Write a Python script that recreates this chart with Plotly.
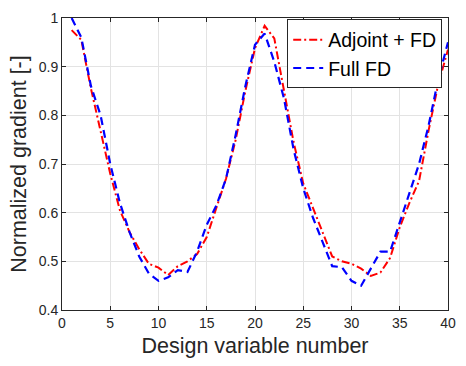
import plotly.graph_objects as go

design_var = list(range(1, 41))
adjoint_fd = [0.975, 0.955, 0.855, 0.77, 0.68, 0.605, 0.56, 0.525, 0.495, 0.487,
              0.472, 0.49, 0.50, 0.515, 0.55, 0.61, 0.67, 0.75, 0.85, 0.938,
              0.984, 0.958, 0.855, 0.745, 0.66, 0.61, 0.56, 0.51, 0.50, 0.495,
              0.485, 0.47, 0.477, 0.507, 0.57, 0.62, 0.665, 0.77, 0.865, 0.935]
full_fd = [1.0, 0.96, 0.86, 0.80, 0.70, 0.62, 0.56, 0.51, 0.475, 0.46,
           0.467, 0.482, 0.478, 0.52, 0.575, 0.615, 0.67, 0.76, 0.86, 0.945,
           0.968, 0.91, 0.835, 0.73, 0.65, 0.59, 0.54, 0.49, 0.488, 0.46,
           0.45, 0.485, 0.52, 0.52, 0.58, 0.64, 0.70, 0.78, 0.875, 0.95]
x_ticks = [0, 5, 10, 15, 20, 25, 30, 35, 40]
y_ticks = [0.4, 0.5, 0.6, 0.7, 0.8, 0.9, 1.0]
y_tick_text = ["0.4", "0.5", "0.6", "0.7", "0.8", "0.9", "1"]

FONT = "Liberation Sans, Arial, sans-serif"
TXT = "#262626"

fig = go.Figure()
fig.add_trace(go.Scatter(x=design_var, y=adjoint_fd, mode="lines", name="Adjoint + FD",
                         line=dict(color="#ff0000", width=2, dash="8px,3px,2px,3px")))
fig.add_trace(go.Scatter(x=design_var, y=full_fd, mode="lines", name="Full FD",
                         line=dict(color="#0000ff", width=2.2, dash="8px,5px")))

axis_common = dict(showgrid=True, gridcolor="#e3e3e3", gridwidth=1,
                   showline=True, linecolor=TXT, linewidth=1, mirror="allticks",
                   ticks="inside", ticklen=4, tickcolor=TXT, zeroline=False,
                   tickfont=dict(family=FONT, size=14, color=TXT))

fig.update_xaxes(range=[0, 40], tickvals=x_ticks,
                 title=dict(text="Design variable number", font=dict(family=FONT, size=21.5, color=TXT), standoff=8),
                 **axis_common)
fig.update_yaxes(range=[0.4, 1.0], tickvals=y_ticks, ticktext=y_tick_text,
                 title=dict(text="Normalized gradient [-]", font=dict(family=FONT, size=21.5, color=TXT), standoff=6),
                 **axis_common)

fig.update_layout(
    width=466, height=366,
    margin=dict(l=62, r=10, t=11, b=56),
    plot_bgcolor="white", paper_bgcolor="white",
    font=dict(family=FONT, color=TXT),
    legend=dict(x=0.985, y=0.995, xanchor="right", yanchor="top",
                bgcolor="white", bordercolor=TXT, borderwidth=1,
                font=dict(family=FONT, size=19.5, color="black"),
                tracegroupgap=0),
    showlegend=True,
)

fig.write_html("out.html")
